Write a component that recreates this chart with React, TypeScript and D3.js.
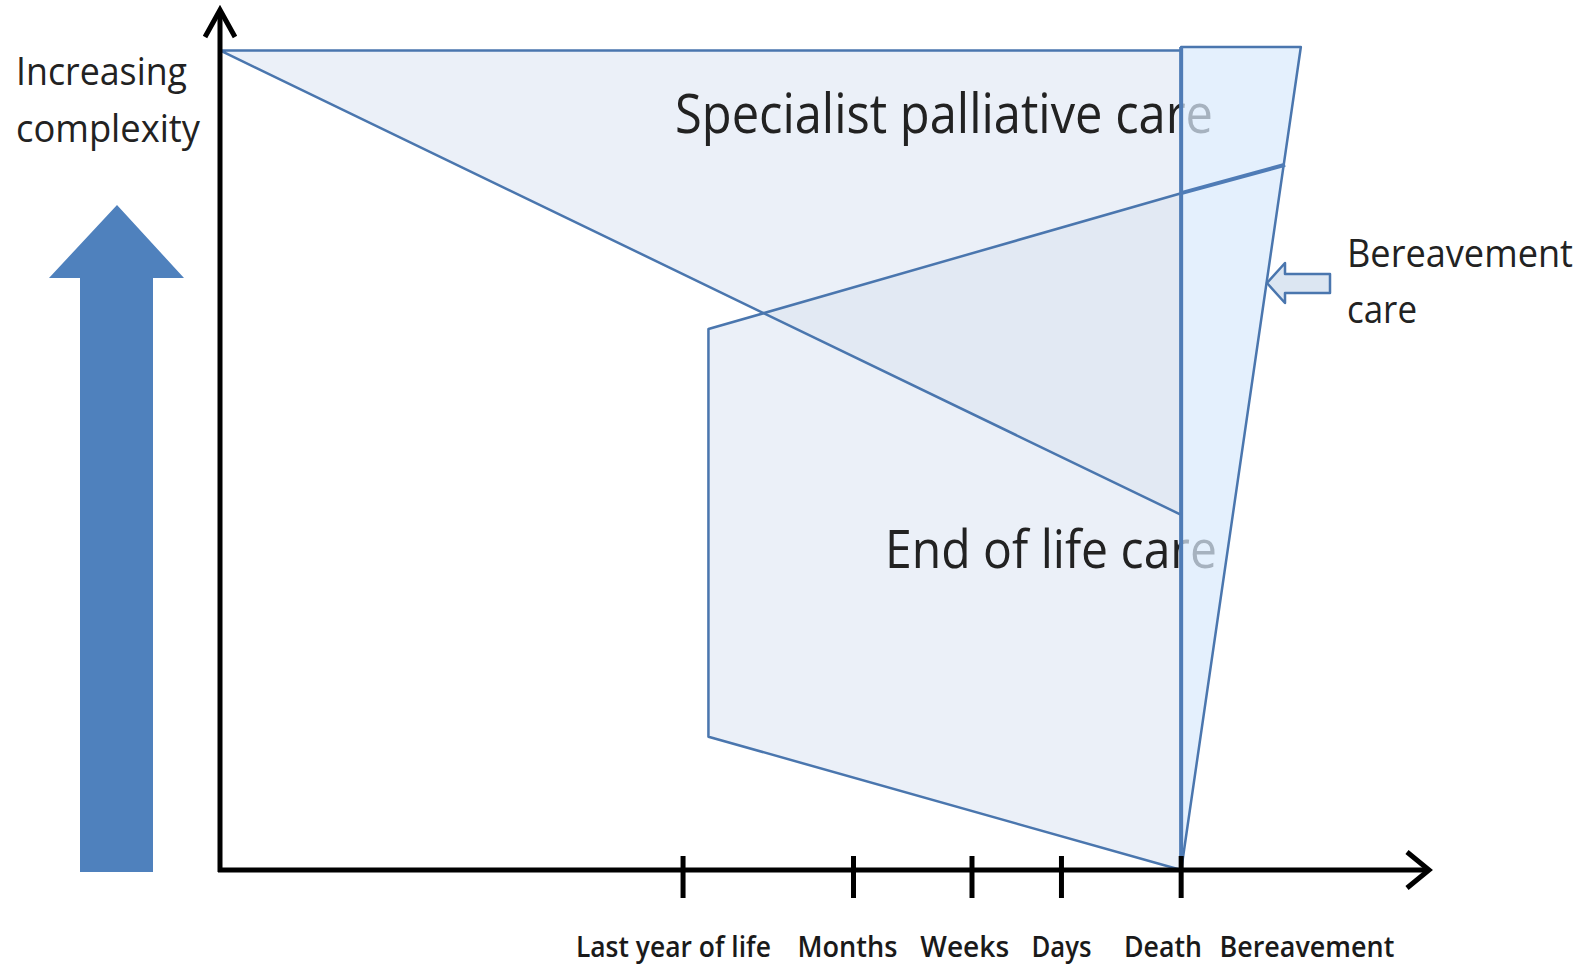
import React from 'react';
import * as d3 from 'd3';

const width = 1589;
const height = 967;

// time runs 0..100 along the x axis, complexity 0..100 up the y axis
const stageNames = ['Last year of life', 'Months', 'Weeks', 'Days', 'Death', 'Bereavement'];
const stageTicks = [38.3, 52.4, 62.2, 69.6, 79.5];
const stageLabelAt = [37.5, 51.9, 61.6, 69.6, 78.0, 89.9];

// Specialist palliative care wedge
const specialistX = [0, 79.5, 79.5];
const specialistY = [95.3, 95.3, 41.3];

// End of life care band
const eolX = [40.4, 79.5, 79.5, 40.4];
const eolY = [62.9, 78.7, 0, 15.5];
const eolExtX = [79.5, 88.1];
const eolExtY = [78.7, 82.0];

// Bereavement care wedge
const bereavementX = [79.5, 89.4, 79.5];
const bereavementY = [95.7, 95.7, 0];

const font = '"Open Sans", "Noto Sans", sans-serif';
const lineBlue = '#4a76ae';

function zip(xs: number[], ys: number[]): [number, number][] {
  return xs.map((v, i) => [v, ys[i]]);
}

export default function App() {
  const x = d3.scaleLinear().domain([0, 100]).range([220, 1429]);
  const y = d3.scaleLinear().domain([0, 100]).range([870, 10]);
  const line = d3.line<[number, number]>().x(d => x(d[0])).y(d => y(d[1]));

  const specialist = line(zip(specialistX, specialistY)) + 'Z';
  const eol = line(zip(eolX, eolY)) + 'Z';
  const eolExt = line(zip(eolExtX, eolExtY)) as string;
  const bereavement = line(zip(bereavementX, bereavementY)) + 'Z';

  const x0 = x(0);
  const y0 = y(0);
  const xEnd = x(100);
  const yEnd = y(100);
  const deathX = x(stageTicks[4]);

  // label boxes (width of each label as drawn)
  const labelWidths = [195, 100, 89, 60, 78, 175];

  return (
    <svg width={width} height={height} style={{ position: 'absolute', left: 0, top: 0, background: '#fff' }}>
      <defs>
        <clipPath id="eolClip">
          <path d={eol} />
        </clipPath>
      </defs>

      {/* big "increasing complexity" arrow */}
      <path d="M117,205 L184,278 L153,278 L153,872 L80,872 L80,278 L49,278 Z" fill="#4f81bd" />

      <path d={specialist} fill="#ebf0f8" />
      <path d={eol} fill="#ebf0f8" />
      {/* overlap of the two areas, a shade darker */}
      <path d={specialist} fill="#e2e9f3" clipPath="url(#eolClip)" />
      <path d={specialist} fill="none" stroke={lineBlue} strokeWidth={2.5} strokeLinejoin="round" />
      <path d={eol} fill="none" stroke={lineBlue} strokeWidth={2.5} strokeLinejoin="round" />

      <text x={675} y={133} fontFamily={font} fontSize={55} fill="#222" textLength={538} lengthAdjust="spacingAndGlyphs">
        Specialist palliative care
      </text>
      <text x={885} y={568} fontFamily={font} fontSize={53} fill="#222" textLength={332} lengthAdjust="spacingAndGlyphs">
        End of life care
      </text>

      <path d={bereavement} fill="rgba(218,234,252,0.72)" stroke={lineBlue} strokeWidth={2.5} strokeLinejoin="round" />
      <path d={eolExt} fill="none" stroke="#4f7cb6" strokeWidth={4} />
      <line x1={deathX} x2={deathX} y1={y(bereavementY[0])} y2={y0} stroke="#4f7cb6" strokeWidth={4} />

      {/* bereavement pointer */}
      <path d="M1267,283 L1285,263 L1285,274 L1330,274 L1330,293 L1285,293 L1285,303 Z"
        fill="#dce6f2" stroke={lineBlue} strokeWidth={2.5} strokeLinejoin="round" />
      <text x={1347} y={267} fontFamily={font} fontSize={38} fill="#222" textLength={226} lengthAdjust="spacingAndGlyphs">Bereavement</text>
      <text x={1347} y={323} fontFamily={font} fontSize={38} fill="#222" textLength={70} lengthAdjust="spacingAndGlyphs">care</text>

      <text x={16} y={85} fontFamily={font} fontSize={39} fill="#222" textLength={171} lengthAdjust="spacingAndGlyphs">Increasing</text>
      <text x={16} y={142} fontFamily={font} fontSize={39} fill="#222" textLength={184} lengthAdjust="spacingAndGlyphs">complexity</text>

      {/* axes */}
      <line x1={x0} x2={x0} y1={y0 + 2} y2={yEnd} stroke="#000" strokeWidth={5} />
      <path d={`M${x0 - 15},${yEnd + 27} L${x0},${yEnd} L${x0 + 15},${yEnd + 27}`} fill="none" stroke="#000" strokeWidth={5} />
      <line x1={x0 - 2} x2={xEnd} y1={y0} y2={y0} stroke="#000" strokeWidth={5} />
      <path d={`M${xEnd - 22},${y0 - 18} L${xEnd},${y0} L${xEnd - 22},${y0 + 18}`} fill="none" stroke="#000" strokeWidth={5} />

      {stageTicks.map((t, i) => (
        <line key={i} x1={x(t)} x2={x(t)} y1={y0 - 14} y2={y0 + 28} stroke="#000" strokeWidth={5} />
      ))}
      {stageNames.map((name, i) => (
        <text key={name} x={x(stageLabelAt[i])} y={957} textAnchor="middle" fontFamily={font} fontSize={29}
          fontWeight={600} fill="#1a1a1a" textLength={labelWidths[i]} lengthAdjust="spacingAndGlyphs">
          {name}
        </text>
      ))}
    </svg>
  );
}
